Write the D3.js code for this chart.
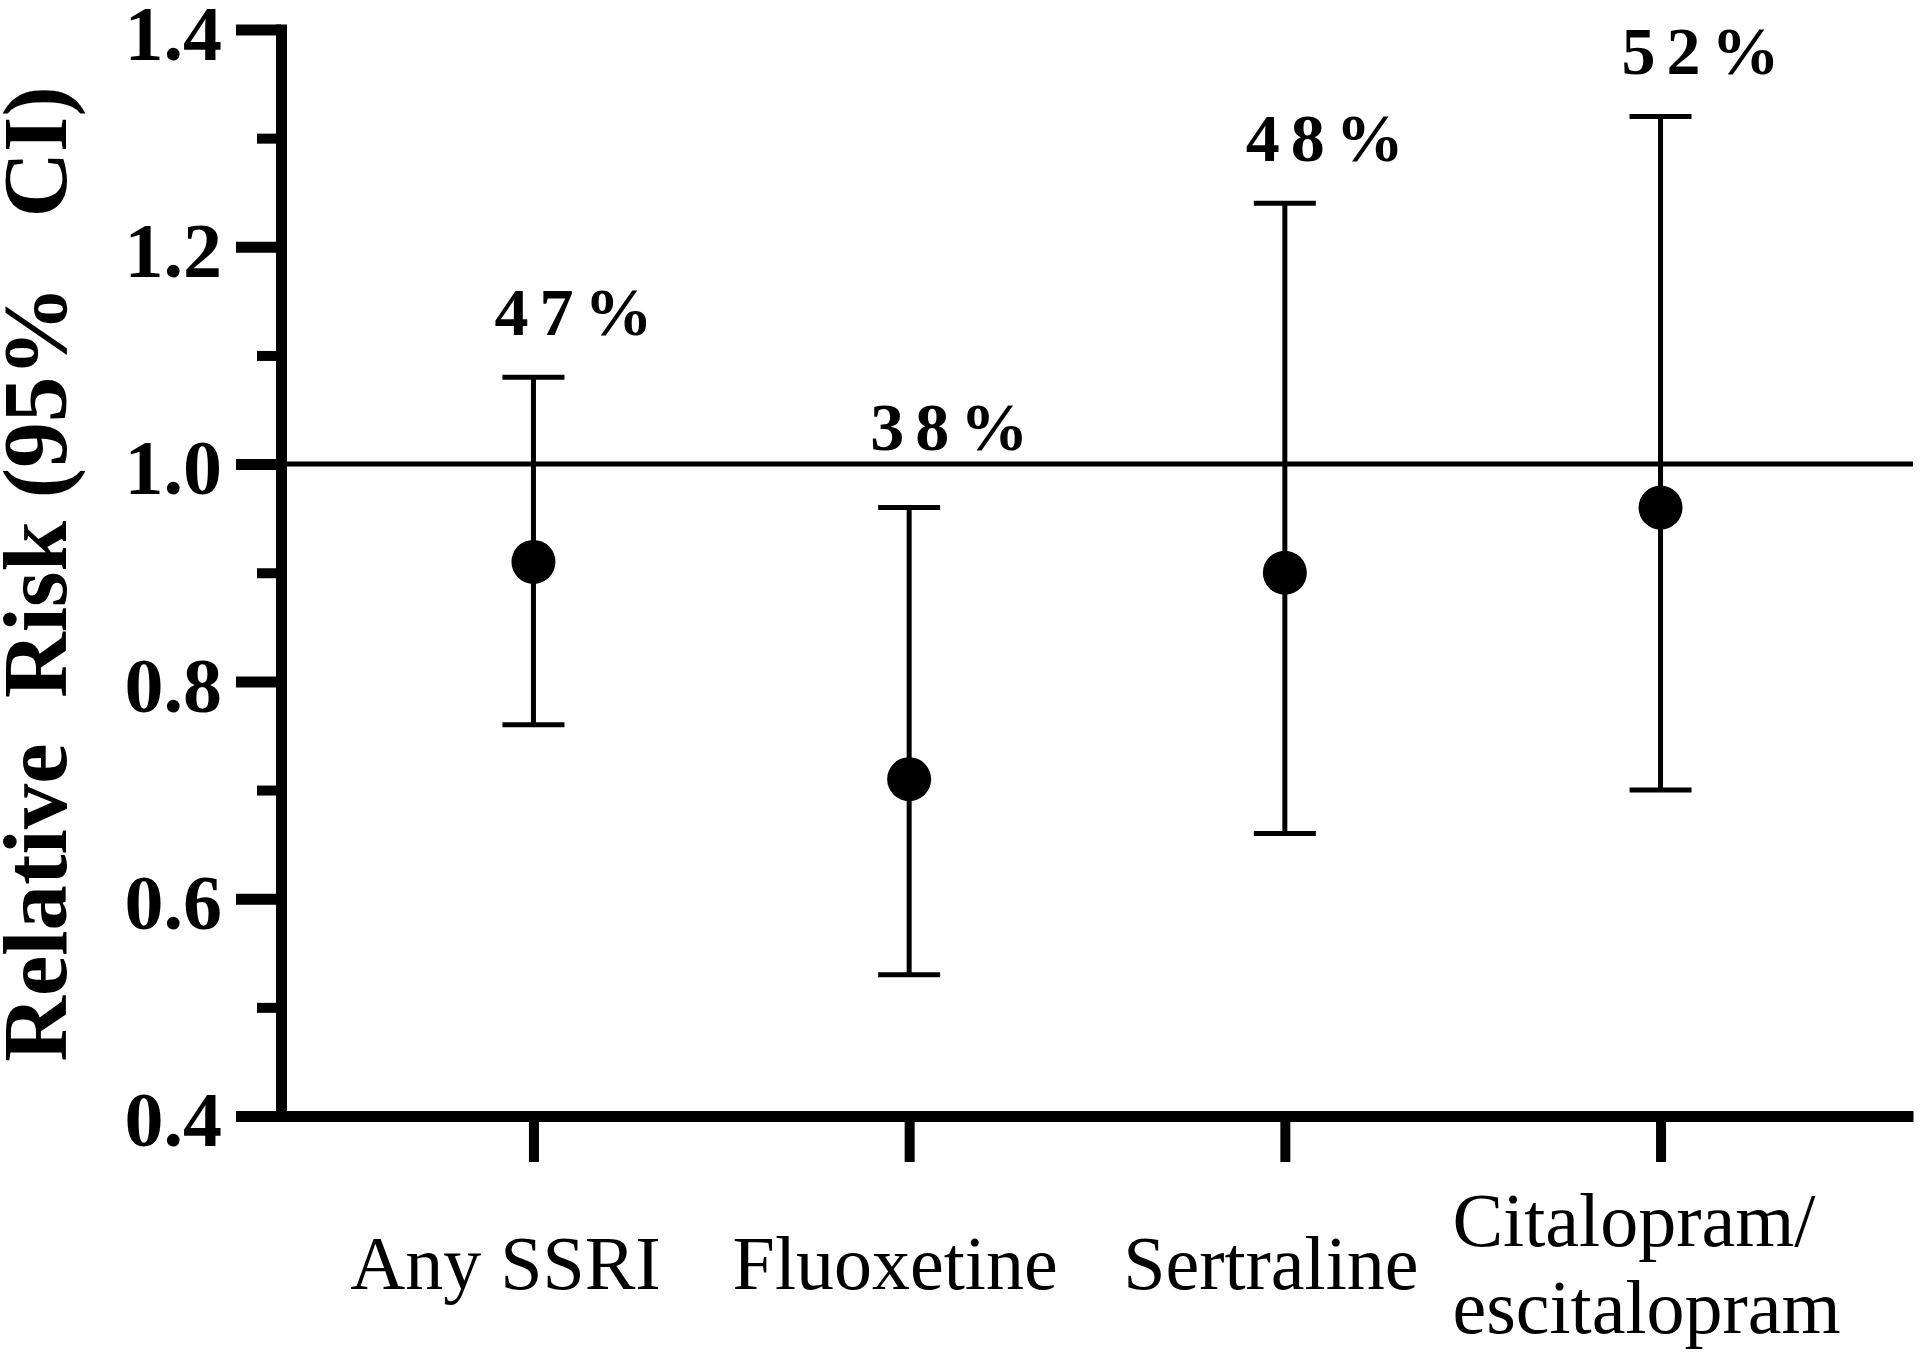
<!DOCTYPE html>
<html><head><meta charset="utf-8">
<script src="https://cdn.jsdelivr.net/npm/d3@7"></script>
<style>body{margin:0;background:#fff}svg{display:block}</style>
</head><body><svg id="c" width="1920" height="1352"></svg>
<script>
const categories = ["Any SSRI", "Fluoxetine", "Sertraline", "Citalopram/escitalopram"];
const estimates = [0.91, 0.71, 0.90, 0.96];
const lowerCI = [0.76, 0.53, 0.66, 0.70];
const upperCI = [1.08, 0.96, 1.24, 1.32];
const pctLabels = ["47%", "38%", "48%", "52%"];
const yMajorTicks = [0.4, 0.6, 0.8, 1.0, 1.2, 1.4];
const yMinorTicks = [0.5, 0.7, 0.9, 1.1, 1.3];
const refValue = 1.0;
const yTitle = "Relative  Risk (95%   CI)";

const svg = d3.select("#c");
const serif = "'Liberation Serif','Times New Roman',serif";
const X0 = 281, X1 = 1913, YB = 1116, YT = 29.5;

const x = d3.scalePoint().domain(categories).range([X0, X1]).padding(0.672);
const y = d3.scaleLinear().domain([0.4, 1.4]).range([YB, YT]);

// reference line
svg.append("line")
  .attr("x1", X0).attr("x2", X1)
  .attr("y1", y(refValue)).attr("y2", y(refValue))
  .attr("stroke", "#000").attr("stroke-width", 5);

// minor y ticks
const yMinor = svg.append("g").attr("transform", `translate(${X0},0)`)
  .call(d3.axisLeft(y).tickValues(yMinorTicks).tickSize(24).tickSizeOuter(0).tickFormat(""));
yMinor.select(".domain").remove();
yMinor.selectAll(".tick line").attr("stroke-width", 10);

// major y axis
const yAx = svg.append("g").attr("transform", `translate(${X0},0)`)
  .call(d3.axisLeft(y).tickValues(yMajorTicks).tickSize(45).tickSizeOuter(0).tickPadding(14).tickFormat(d3.format(".1f")));
yAx.select(".domain").attr("stroke-width", 11).attr("stroke-linecap", "square");
yAx.selectAll(".tick line").attr("stroke-width", 11);
yAx.selectAll(".tick text")
  .attr("font-family", serif).attr("font-weight", "bold").attr("font-size", 78)
  .attr("fill", "#000").attr("dy", "0.38em");

// x axis
const xAx = svg.append("g").attr("transform", `translate(0,${YB})`)
  .call(d3.axisBottom(x).tickSize(46).tickSizeOuter(0).tickFormat(""));
xAx.select(".domain").attr("stroke-width", 11);
xAx.selectAll(".tick line").attr("stroke-width", 10);

// category labels (multi-line, left aligned block centred under tick)
categories.forEach((c, i) => {
  const parts = c.includes("/") ? [c.slice(0, c.indexOf("/") + 1), c.slice(c.indexOf("/") + 1)] : [c];
  const t = svg.append("text")
    .attr("font-family", serif).attr("font-size", 76).attr("fill", "#000");
  const lh = 87;
  const base = 1289 - (parts.length - 1) * lh / 2;
  parts.forEach((p, j) => {
    t.append("tspan").attr("x", 0).attr("y", base + j * lh).text(p);
  });
  const w = t.node().getBBox().width;
  const shift = i === 0 ? 28 : 14;
  t.attr("transform", `translate(${x(c) - shift - w / 2},0)`);
});

// error bars
const capHalf = 31;
const g = svg.append("g");
categories.forEach((c, i) => {
  const cx = x(c);
  g.append("line").attr("x1", cx).attr("x2", cx)
    .attr("y1", y(lowerCI[i])).attr("y2", y(upperCI[i]))
    .attr("stroke", "#000").attr("stroke-width", 5);
  [lowerCI[i], upperCI[i]].forEach(v => {
    g.append("line").attr("x1", cx - capHalf).attr("x2", cx + capHalf)
      .attr("y1", y(v)).attr("y2", y(v))
      .attr("stroke", "#000").attr("stroke-width", 5);
  });
  g.append("circle").attr("cx", cx).attr("cy", y(estimates[i])).attr("r", 22).attr("fill", "#000");
  let by = y(upperCI[i]) - 42;
  if (by > y(refValue) - 14) by = y(refValue) - 14;
  g.append("text").attr("x", cx - 39).attr("y", by)
    .attr("font-family", serif).attr("font-weight", "bold").attr("font-size", 68)
    .attr("letter-spacing", 11).attr("fill", "#000")
    .text(pctLabels[i]);
});

// y title
svg.append("text")
  .attr("transform", `translate(66,574) rotate(-90)`)
  .attr("text-anchor", "middle")
  .attr("font-family", serif).attr("font-weight", "bold").attr("font-size", 91)
  .style("white-space", "pre")
  .attr("fill", "#000")
  .text(yTitle);
</script></body></html>
